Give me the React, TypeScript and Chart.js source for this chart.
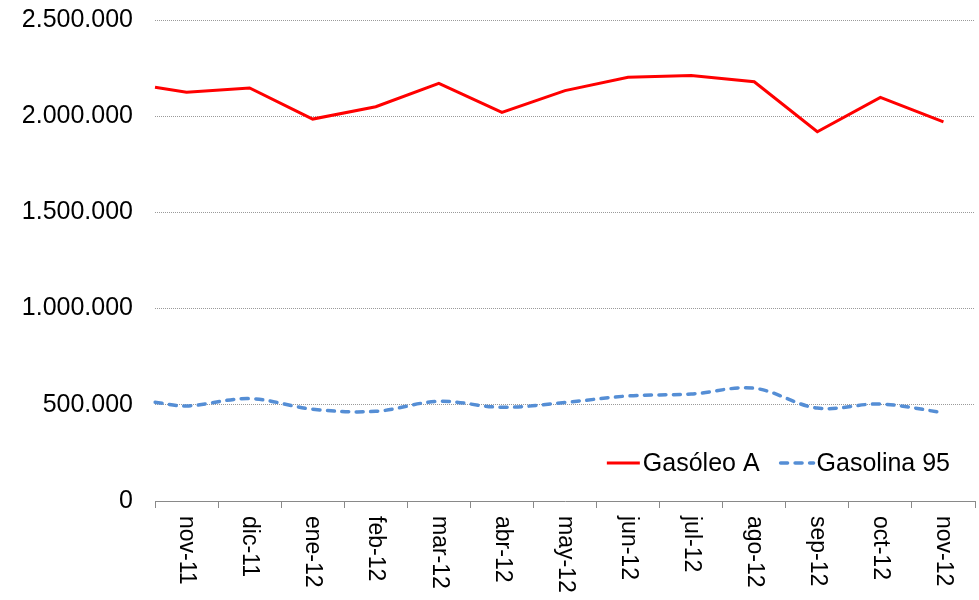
import React, { useEffect, useRef } from "react";
import { Chart, registerables } from "chart.js";

Chart.register(...registerables);

const categories = ["nov-11", "dic-11", "ene-12", "feb-12", "mar-12", "abr-12", "may-12", "jun-12", "jul-12", "ago-12", "sep-12", "oct-12", "nov-12"];
const gasoleoA = [2124000, 2147000, 1985000, 2049000, 2171000, 2020000, 2133000, 2202000, 2212000, 2179000, 1919000, 2098000, 1970000];
const gasoleoAStart = 2150000;
const gasolina95 = [494000, 532000, 477000, 466000, 518000, 487000, 512000, 546000, 556000, 586000, 483000, 504000, 459000];
const gasolina95Start = 513000;
const yTicks = [0, 500000, 1000000, 1500000, 2000000, 2500000];

const FONT = "'Liberation Sans', Arial, sans-serif";

// half-step positions: even index = category boundary, odd index = category centre
function buildLabels(): string[] {
  const out: string[] = [""];
  categories.forEach((c) => { out.push(c); out.push(""); });
  return out;
}
function buildSeries(start: number, vals: number[]): (number | null)[] {
  const out: (number | null)[] = [start];
  vals.forEach((v) => { out.push(v); out.push(null); });
  return out;
}
const fmt = (v: number) => String(Math.round(v)).replace(/\B(?=(\d{3})+(?!\d))/g, ".");

const labelsPlugin = {
  id: "customLabels",
  afterDraw(chart: any) {
    const ctx = chart.ctx;
    const xs = chart.scales.x;
    const area = chart.chartArea;
    const labels = chart.data.labels as string[];
    ctx.save();
    ctx.fillStyle = "#000";
    ctx.font = `23px ${FONT}`;
    ctx.textAlign = "left";
    ctx.textBaseline = "middle";
    labels.forEach((lab, i) => {
      if (!lab) return;
      const x = xs.getPixelForValue(i);
      ctx.save();
      ctx.translate(x, area.bottom + 15);
      ctx.rotate(Math.PI / 2);
      ctx.fillText(lab, 0, 0);
      ctx.restore();
    });
    ctx.restore();

    // legend
    ctx.save();
    ctx.font = `25px ${FONT}`;
    ctx.textBaseline = "middle";
    ctx.textAlign = "left";
    const ds = chart.data.datasets;
    const sample = 33, gap = 3, spacing = 21;
    const widths = ds.map((d: any) => ctx.measureText(d.label).width);
    const total = ds.length * (sample + gap) + widths.reduce((a: number, b: number) => a + b, 0) + spacing * (ds.length - 1);
    let x = area.right - 25 - total;
    const y = area.bottom - 38;
    ds.forEach((d: any, i: number) => {
      ctx.save();
      ctx.strokeStyle = d.borderColor;
      ctx.lineWidth = d.borderWidth;
      ctx.lineCap = d.borderCapStyle || "butt";
      ctx.setLineDash(d.borderDash || []);
      ctx.beginPath();
      ctx.moveTo(x, y);
      ctx.lineTo(x + sample, y);
      ctx.stroke();
      ctx.restore();
      x += sample + gap;
      ctx.fillStyle = "#000";
      ctx.fillText(d.label, x, y + 1);
      x += widths[i] + spacing;
    });
    ctx.restore();
  },
};

export default function App() {
  const ref = useRef<HTMLCanvasElement | null>(null);
  useEffect(() => {
    if (!ref.current) return;
    const chart = new Chart(ref.current, {
      type: "line",
      data: {
        labels: buildLabels(),
        datasets: [
          {
            label: "Gasóleo A",
            data: buildSeries(gasoleoAStart, gasoleoA),
            borderColor: "#FF0000",
            borderWidth: 3,
            pointRadius: 0,
            spanGaps: true,
            tension: 0,
            fill: false,
          },
          {
            label: "Gasolina 95",
            data: buildSeries(gasolina95Start, gasolina95),
            borderColor: "#558ED5",
            borderWidth: 3.5,
            borderDash: [7, 7.5],
            borderCapStyle: "round",
            pointRadius: 0,
            spanGaps: true,
            tension: 0.35,
            fill: false,
          } as any,
        ],
      },
      options: {
        responsive: false,
        animation: false,
        maintainAspectRatio: false,
        layout: { padding: { left: 0, top: 20, right: 4, bottom: 0 } },
        plugins: { legend: { display: false }, tooltip: { enabled: false } },
        scales: {
          x: {
            type: "category",
            offset: false,
            afterFit: (s: any) => { s.height = 99; s.paddingLeft = 0; s.paddingRight = 0; },
            ticks: { display: false, autoSkip: false },
            grid: {
              drawOnChartArea: false,
              drawTicks: true,
              tickLength: 7,
              color: (c: any) => (c.index % 2 === 0 ? "#898989" : "rgba(0,0,0,0)"),
            },
            border: { display: true, color: "#898989", width: 1 },
          },
          y: {
            min: 0,
            max: 2500000,
            afterFit: (s: any) => { s.width = 155; s.paddingTop = 0; s.paddingBottom = 0; },
            afterBuildTicks: (s: any) => { s.ticks = yTicks.map((v) => ({ value: v })); },
            ticks: {
              padding: 22,
              color: "#000",
              font: { family: FONT, size: 25 },
              callback: (v: any) => fmt(Number(v)),
            },
            grid: {
              drawTicks: false,
              color: (c: any) => (c.index === 0 ? "rgba(0,0,0,0)" : "#9a9a9a"),
              lineWidth: 1,
            },
            border: { display: false, dash: [1, 1] },
          },
        },
      },
      plugins: [labelsPlugin],
    });
    return () => chart.destroy();
  }, []);
  return (
    <div style={{ position: "absolute", left: 0, top: 0, width: 979, height: 600, background: "#fff" }}>
      <canvas ref={ref} width={979} height={600} style={{ width: 979, height: 600, display: "block" }} />
    </div>
  );
}
